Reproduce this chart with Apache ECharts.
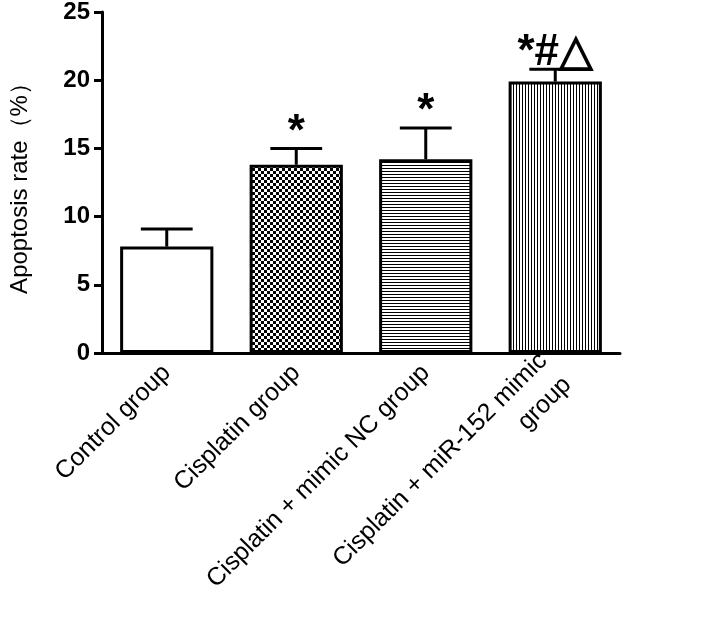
<!DOCTYPE html>
<html><head><meta charset="utf-8">
<script src="https://cdn.jsdelivr.net/npm/echarts@6/dist/echarts.min.js"></script>
<style>html,body{margin:0;padding:0;background:#fff}#c{width:714px;height:626px}</style>
</head><body><div id="c"></div>
<script>
var categories = ['Control group','Cisplatin group','Cisplatin + mimic NC group','Cisplatin + miR-152 mimic\ngroup'];
var means = [7.8, 13.8, 14.2, 19.9];
var errors = [1.3, 1.2, 2.3, 0.9];
var marks = ['', '*', '*', '*#△'];
var yTicks = [0,5,10,15,20,25];

function pat(kind){
  var c=document.createElement('canvas'); c.width=6; c.height=6;
  var g=c.getContext('2d'); g.fillStyle='#fff'; g.fillRect(0,0,6,6); g.fillStyle='#000';
  if(kind==='check'){ g.fillRect(0,0,3,3); g.fillRect(3,3,3,3); }
  else if(kind==='h'){ g.fillRect(0,0,6,1); g.fillRect(0,3,6,1); }
  else if(kind==='v'){ g.fillRect(0,0,1,6); g.fillRect(3,0,1,6); }
  return {image:c, repeat:'repeat'};
}
var fills=['#fff', pat('check'), pat('h'), pat('v')];

var chart=echarts.init(document.getElementById('c'));
chart.setOption({
  animation:false,
  grid:{left:97,right:94,top:12,bottom:273},
  xAxis:{type:'category',data:categories,
    axisLine:{lineStyle:{color:'#000',width:3}},axisTick:{show:false},
    axisLabel:{rotate:45,interval:0,color:'#000',fontSize:25,fontFamily:'Liberation Sans',align:'right',margin:16,lineHeight:34}},
  yAxis:{type:'value',min:0,max:25,interval:5,
    name:'Apoptosis rate（%）',nameLocation:'middle',nameGap:70,
    nameTextStyle:{fontSize:24,color:'#000',fontFamily:'Liberation Sans'},
    axisLine:{show:true,lineStyle:{color:'#000',width:3}},
    axisTick:{show:true,length:8,lineStyle:{width:3,color:'#000'}},
    splitLine:{show:false},
    axisLabel:{color:'#000',fontSize:24,fontWeight:'bold',fontFamily:'Liberation Sans',margin:12,
      formatter:function(v){return yTicks.indexOf(v)>=0?v:'';}}},
  series:[
    {type:'bar',barWidth:'72%',z:2,
     data:means.map(function(v,i){return {value:v,itemStyle:{color:fills[i],borderColor:'#000',borderWidth:3}};})},
    {type:'custom',z:3,data:means.map(function(v,i){return [i,v,errors[i]];}),
     renderItem:function(p,api){
       var x=api.coord([api.value(0),api.value(1)]);
       var t=api.coord([api.value(0),api.value(1)+api.value(2)]);
       var half=api.size([1,0])[0]*0.2;
       var i=p.dataIndex;
       return {type:'group',children:[
         {type:'line',shape:{x1:x[0],y1:x[1],x2:t[0],y2:t[1]},style:{stroke:'#000',lineWidth:3}},
         {type:'line',shape:{x1:t[0]-half,y1:t[1],x2:t[0]+half,y2:t[1]},style:{stroke:'#000',lineWidth:3}},
         {type:'text',x:t[0],y:t[1]+6,style:{text:marks[i],fill:'#000',font:'bold 44px Liberation Sans',textAlign:'center',textVerticalAlign:'bottom'}}
       ]};
     }}
  ]
});
</script></body></html>
